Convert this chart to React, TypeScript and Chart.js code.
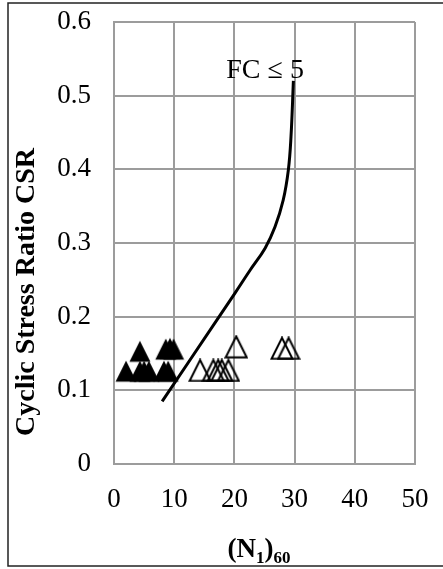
import React, { useEffect, useRef } from "react";
import { Chart, registerables } from "chart.js";

Chart.register(...registerables);

// Liquefied sites (solid triangles)
const liquefiedN160 = [2.0, 4.3, 5.0, 5.8, 8.3, 9.0, 4.3, 8.6, 9.3, 9.9];
const liquefiedCSR = [0.126, 0.126, 0.126, 0.126, 0.126, 0.126, 0.153, 0.156, 0.157, 0.156];

// Non-liquefied sites (open triangles)
const nonLiquefiedN160 = [14.3, 16.5, 17.3, 17.9, 19.0, 20.3, 27.9, 29.0];
const nonLiquefiedCSR = [0.127, 0.127, 0.127, 0.127, 0.127, 0.159, 0.157, 0.157];

// Boundary curve for clean sand (FC <= 5)
const curveN160 = [8.0, 17.3, 20.1, 22.6, 25.1, 26.75, 28.1, 28.96, 29.4, 29.8];
const curveCSR = [0.085, 0.198, 0.232, 0.263, 0.293, 0.322, 0.358, 0.399, 0.444, 0.52];

const xTickValues = [0, 10, 20, 30, 40, 50];
const yTickValues = [0, 0.1, 0.2, 0.3, 0.4, 0.5, 0.6];
const yTickLabels = ["0", "0.1", "0.2", "0.3", "0.4", "0.5", "0.6"];

const curveLabel = "FC \u2264 5";
const curveLabelAt = { x: 25.1, y: 0.524 };
const yTitle = "Cyclic Stress Ratio CSR";

const SERIF = "'Liberation Serif', 'Times New Roman', serif";
const GRID = "#9c9c9c";

function triangleMarker(filled: boolean): HTMLCanvasElement {
  const c = document.createElement("canvas");
  c.width = 24;
  c.height = 24;
  const g = c.getContext("2d")!;
  g.beginPath();
  g.moveTo(12, 1.5);
  g.lineTo(22.5, 22.5);
  g.lineTo(1.5, 22.5);
  g.closePath();
  g.lineJoin = "miter";
  if (filled) {
    g.fillStyle = "#000";
    g.fill();
  } else {
    g.strokeStyle = "#000";
    g.lineWidth = 2;
    g.stroke();
  }
  return c;
}

const textPlugin = {
  id: "chartText",
  afterDraw(chart: any) {
    const { ctx } = chart;
    const xs = chart.scales.x;
    const ys = chart.scales.y;
    ctx.save();

    // outer frame
    ctx.strokeStyle = "#222";
    ctx.lineWidth = 1.5;
    ctx.strokeRect(8, 3, 480, 563);

    ctx.fillStyle = "#000";

    // curve label
    ctx.font = `28px ${SERIF}`;
    ctx.textAlign = "center";
    ctx.textBaseline = "alphabetic";
    ctx.fillText(curveLabel, xs.getPixelForValue(curveLabelAt.x), ys.getPixelForValue(curveLabelAt.y));

    // y axis title
    ctx.save();
    ctx.translate(34, 292);
    ctx.rotate(-Math.PI / 2);
    ctx.font = `bold 28px ${SERIF}`;
    ctx.textAlign = "center";
    ctx.fillText(yTitle, 0, 0);
    ctx.restore();

    // x axis title: (N1)60
    const parts = [
      { t: "(N", size: 27, dy: 0 },
      { t: "1", size: 17, dy: 6 },
      { t: ")", size: 27, dy: 0 },
      { t: "60", size: 17, dy: 6 },
    ];
    let total = 0;
    for (const p of parts) {
      ctx.font = `bold ${p.size}px ${SERIF}`;
      total += ctx.measureText(p.t).width;
    }
    let cx = 259 - total / 2;
    const base = 557;
    ctx.textAlign = "left";
    for (const p of parts) {
      ctx.font = `bold ${p.size}px ${SERIF}`;
      ctx.fillText(p.t, cx, base + p.dy);
      cx += ctx.measureText(p.t).width;
    }
    ctx.restore();
  },
};

export default function App() {
  const ref = useRef<HTMLCanvasElement | null>(null);

  useEffect(() => {
    if (!ref.current) return;
    const filled = triangleMarker(true);
    const open = triangleMarker(false);

    const chart = new Chart(ref.current, {
      type: "scatter",
      data: {
        datasets: [
          {
            label: "Liquefied",
            data: liquefiedN160.map((x, i) => ({ x, y: liquefiedCSR[i] })),
            pointStyle: filled,
            pointRadius: 11,
          },
          {
            label: "Non-liquefied",
            data: nonLiquefiedN160.map((x, i) => ({ x, y: nonLiquefiedCSR[i] })),
            pointStyle: open,
            pointRadius: 11,
          },
          {
            type: "line",
            label: curveLabel,
            data: curveN160.map((x, i) => ({ x, y: curveCSR[i] })),
            borderColor: "#000",
            borderWidth: 3,
            pointRadius: 0,
            tension: 0.4,
            fill: false,
          } as any,
        ],
      },
      options: {
        responsive: false,
        animation: false,
        layout: { padding: { left: 0, top: 22, right: 28, bottom: 0 } },
        plugins: { legend: { display: false }, tooltip: { enabled: false } },
        scales: {
          x: {
            type: "linear",
            min: 0,
            max: 50,
            afterBuildTicks: (s: any) => {
              s.ticks = xTickValues.map((v) => ({ value: v }));
            },
            afterFit: (s: any) => {
              s.height = 105;
              s.paddingLeft = 0;
              s.paddingRight = 0;
            },
            ticks: {
              font: { family: SERIF, size: 27 },
              color: "#000",
              padding: 20,
              maxRotation: 0,
            },
            grid: { color: GRID, lineWidth: 2, drawTicks: false },
            border: { color: GRID, width: 2 },
          },
          y: {
            type: "linear",
            min: 0,
            max: 0.6,
            afterBuildTicks: (s: any) => {
              s.ticks = yTickValues.map((v) => ({ value: v }));
            },
            afterFit: (s: any) => {
              s.width = 114;
              s.paddingTop = 0;
              s.paddingBottom = 0;
            },
            ticks: {
              font: { family: SERIF, size: 27 },
              color: "#000",
              padding: 23,
              callback: (_v: any, i: number) => yTickLabels[i],
            },
            grid: { color: GRID, lineWidth: 2, drawTicks: false },
            border: { color: GRID, width: 2 },
          },
        },
      },
      plugins: [textPlugin],
    });
    return () => chart.destroy();
  }, []);

  return (
    <div style={{ position: "fixed", left: 0, top: 0, width: 443, height: 569, overflow: "hidden", background: "#fff" }}>
      <canvas ref={ref} width={443} height={569} style={{ display: "block" }} />
    </div>
  );
}
